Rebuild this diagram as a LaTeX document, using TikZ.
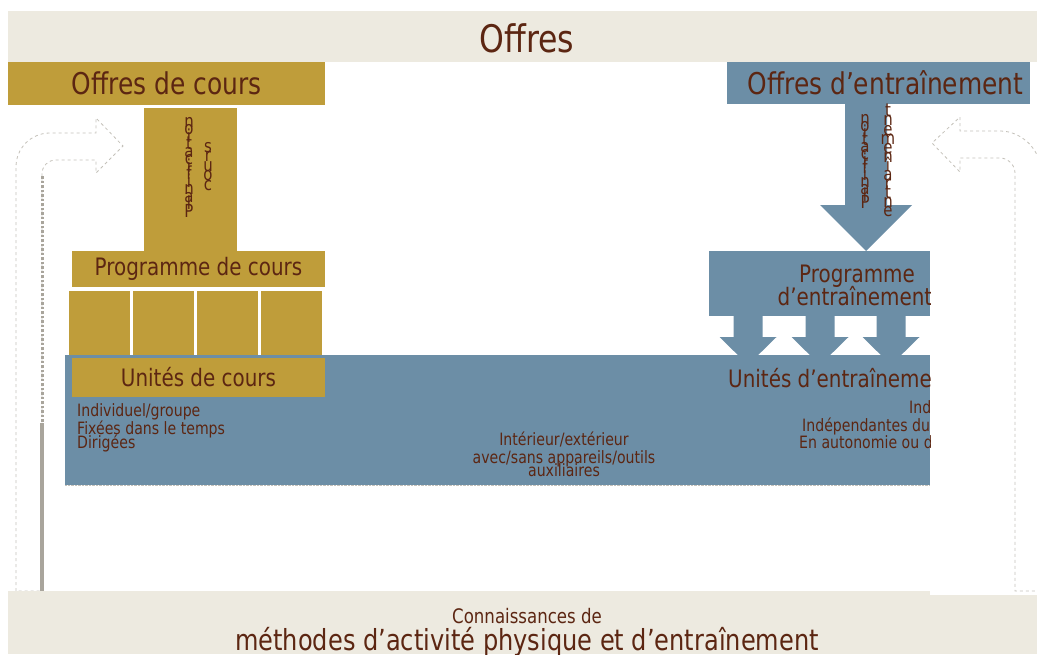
\documentclass[tikz,border=0pt]{standalone}
\usepackage{fontspec}
\setmainfont{DejaVu Sans}[FakeStretch=0.83]
\usepackage{xcolor}
\usepackage{tikz}
\usetikzlibrary{positioning}
\definecolor{gold}{HTML}{BF9D3A}
\definecolor{steel}{HTML}{6C8EA6}
\definecolor{beige}{HTML}{EDEAE0}
\definecolor{txtbrown}{HTML}{5C2612}
\definecolor{lgray}{HTML}{C4C1BA}
\definecolor{dgray}{HTML}{A9A59C}

\begin{document}
\setlength{\lineskiplimit}{-100pt}
\begin{tikzpicture}[x=1pt,y=-1pt,
        box/.style={rectangle,inner sep=0pt,text=txtbrown},
        goldbox/.style={box,fill=gold},
        bluebox/.style={box,fill=steel},
        txt/.style={inner sep=0pt,text=txtbrown},
        big/.style={font=\fontsize{30}{34}\selectfont},
        mid/.style={font=\fontsize{24}{28}\selectfont},
        small/.style={font=\fontsize{17}{20}\selectfont},
        vstack/.style={txt,align=center,anchor=north,font=\fontsize{18}{#1}\selectfont},
        arrowline/.style={draw=lgray,dashed,line width=0.8pt}]
        \useasboundingbox (0,0) rectangle (1037,654);

        \fill[beige] (8,11) rectangle (1037,62);
        \node[txt,font=\fontsize{38}{42}\selectfont,anchor=base] (title) at (527,52) {Offres};

        \draw[arrowline] (16,591) -- (16,167) .. controls (16,148) and (31,133) .. (50,133) -- (96,133) -- (96,118) -- (123,146) -- (96,173) -- (96,160) -- (56,160) .. controls (48,160) and (42,166) .. (42,174) -- (42,591) -- cycle;
        \draw[dgray,line width=3pt,dash pattern=on 2.5pt off 2pt] (42,176) -- (42,423);
        \draw[dgray,line width=3.5pt] (42,423) -- (42,591);
        \draw[arrowline] (1041,591) -- (1041,172) .. controls (1041,150) and (1022,131) .. (1000,131) -- (960,131) -- (960,117) -- (932,143) -- (960,172) -- (960,158) -- (1000,158) .. controls (1008,158) and (1015,165) .. (1015,173) -- (1015,591) -- cycle;

        \node[goldbox,big,minimum width=317pt,minimum height=43pt] (offcours) at (166.5,83.5) {Offres de cours};
        \node[goldbox,minimum width=93pt,minimum height=144pt,anchor=north west] (plancours) at (144,108) {};
        \node[vstack=7.5] (plan1) at (189,117) {n\\o\\i\\t\\a\\c\\i\\f\\i\\n\\a\\l\\P};
        \node[vstack=9.5] (plan2) at (208,142) {s\\r\\u\\o\\c};
        \node[goldbox,mid,minimum width=253pt,minimum height=36pt] (progcours) at (198.5,269) {Programme de cours};
        \foreach \sx in {69,133,197,261}
            \fill[gold] (\sx,291) rectangle ++(61,64);

        \node[bluebox,minimum width=865pt,minimum height=130pt,anchor=north west] (units) at (65,355) {};
        \draw[lgray,densely dotted] (65,485) -- (930,485);
        \node[goldbox,mid,minimum width=253pt,minimum height=39pt] (unitcours) at (198.5,377.5) {Unités de cours};
        \node[txt,small,anchor=base west] (c1) at (77,416) {Individuel/groupe};
        \node[txt,small,anchor=base west] (c2) at (77,434) {Fixées dans le temps};
        \node[txt,small,anchor=base west] (c3) at (77,448) {Dirigées};
        \node[txt,small,anchor=base] (m1) at (564,445) {Intérieur/extérieur};
        \node[txt,small,anchor=base] (m2) at (564,463) {avec/sans appareils/outils};
        \node[txt,small,anchor=base] (m3) at (564,476) {auxiliaires};

        \node[bluebox,minimum width=303pt,minimum height=42pt] (offentr) at (878.5,83) {};
        \node[txt,big,anchor=base] (offentrtxt) at (885.5,94) {Offres d’entraînement};
        \fill[steel] (845,104) -- (887,104) -- (887,205) -- (912,205) -- (866,251) -- (820,205) -- (845,205) -- cycle;
        \node[vstack=7] (plan3) at (865,114) {n\\o\\i\\t\\a\\c\\i\\f\\i\\n\\a\\l\\P};
        \node[vstack=9.1] (plan4) at (888,104) {t\\n\\e\\m\\e\\n\\î\\a\\r\\t\\n\\e};

        \begin{scope}
            \clip (0,0) rectangle (930,654);
            \node[bluebox,minimum width=221pt,minimum height=65pt,anchor=north west] (progentr) at (709,251) {};
            \node[txt,mid,anchor=base] (p1) at (857,282) {Programme};
            \node[txt,mid,anchor=base] (p2) at (855,305) {d’entraînement};
            \foreach \cx in {748,820,891,962}
                \fill[steel] (\cx-14.5,316) -- (\cx+14.5,316) -- (\cx+14.5,337) -- (\cx+28.5,337) -- (\cx,365) -- (\cx-28.5,337) -- (\cx-14.5,337) -- cycle;
            \fill[steel] (700,355) rectangle (930,485);
            \node[txt,mid,anchor=base west] (unitentr) at (728,387) {Unités d’entraînement};
            \node[txt,small,anchor=base west] (e1) at (909,413) {Individuel};
            \node[txt,small,anchor=base west] (e2) at (802,431) {Indépendantes du temps};
            \node[txt,small,anchor=base west] (e3) at (799,448) {En autonomie ou dirigées};
        \end{scope}

        \fill[beige] (8,591) rectangle (930,654);
        \fill[beige] (930,595) rectangle (1037,654);
        \node[txt,font=\fontsize{20}{22}\selectfont,anchor=base] (know) at (527,623) {Connaissances de};
        \node[txt,font=\fontsize{29}{32}\selectfont,anchor=base] (methods) at (527,650) {méthodes d’activité physique et d’entraînement};
    \end{tikzpicture}
\end{document}
